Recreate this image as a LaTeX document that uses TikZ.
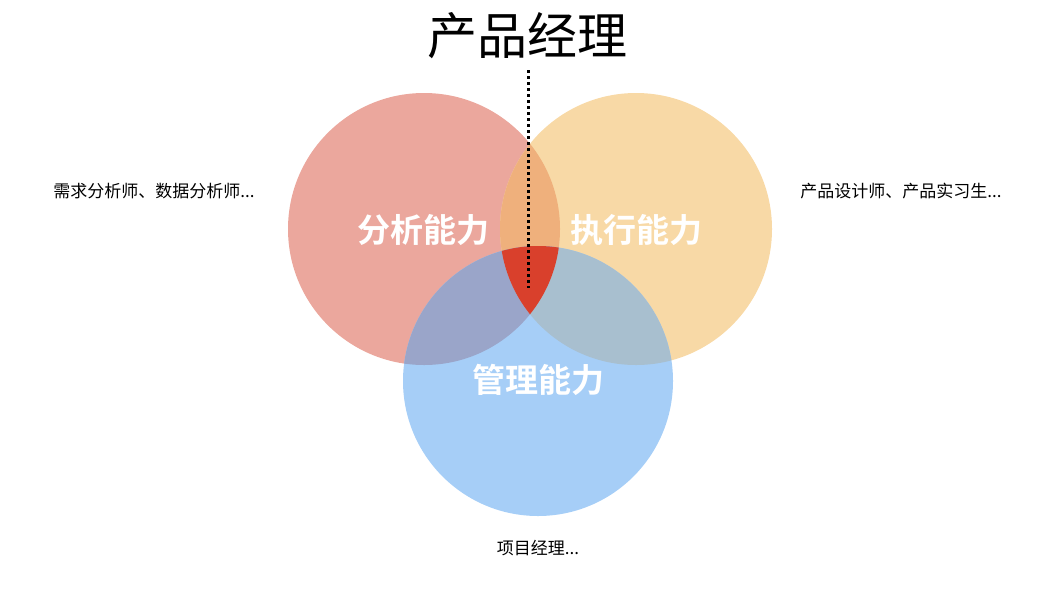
\documentclass[tikz,border=0pt]{standalone}
\usepackage{fontspec}
\newfontfamily\cjk{Noto Sans CJK SC}
\newfontfamily\cjkb{Noto Sans CJK SC Bold}
\definecolor{cr}{HTML}{EBA79D}
\definecolor{co}{HTML}{F8D9A6}
\definecolor{cb}{HTML}{A6CEF7}
\definecolor{cro}{HTML}{EFB07C}
\definecolor{crb}{HTML}{9AA5C9}
\definecolor{cob}{HTML}{A8BFCF}
\definecolor{crob}{HTML}{D9402C}
\tikzset{lab/.style={text=white,font=\cjkb\fontsize{33}{36}\selectfont},
side/.style={font=\cjk\fontsize{17}{20}\selectfont}}
\begin{document}
\begin{tikzpicture}[x=1pt,y=-1pt]
\useasboundingbox (0,0) rectangle (1054,598);
\def\R{(424,229) circle (136)}
\def\O{(636,229) circle (136)}
\def\B{(538,381) circle (135)}
\fill[cr] \R; \fill[co] \O; \fill[cb] \B;
\begin{scope}\clip \R; \fill[cro] \O; \fill[crb] \B; \end{scope}
\begin{scope}\clip \O; \fill[cob] \B; \end{scope}
\begin{scope}\clip \R; \clip \O; \fill[crob] \B; \end{scope}
\node (r) at (0,0) {};
\node[lab] (la) at (423,230) {分析能力};
\node[lab] (lb) at (636,230) {执行能力};
\node[lab] (lc) at (538,380) {管理能力};
\node[font=\cjk\fontsize{50}{54}\selectfont] (t) at (527,36) {产品经理};
\coordinate (d1) at (528,70);
\coordinate (d2) at (528,288);
\draw[line width=3pt,dash pattern=on 3pt off 3pt] (d1) -- (d2);
\node[side] (s1) at (154,191) {需求分析师、数据分析师...};
\node[side] (s2) at (901,191) {产品设计师、产品实习生...};
\node[side] (s3) at (538,548) {项目经理...};
\end{tikzpicture}
\end{document}
